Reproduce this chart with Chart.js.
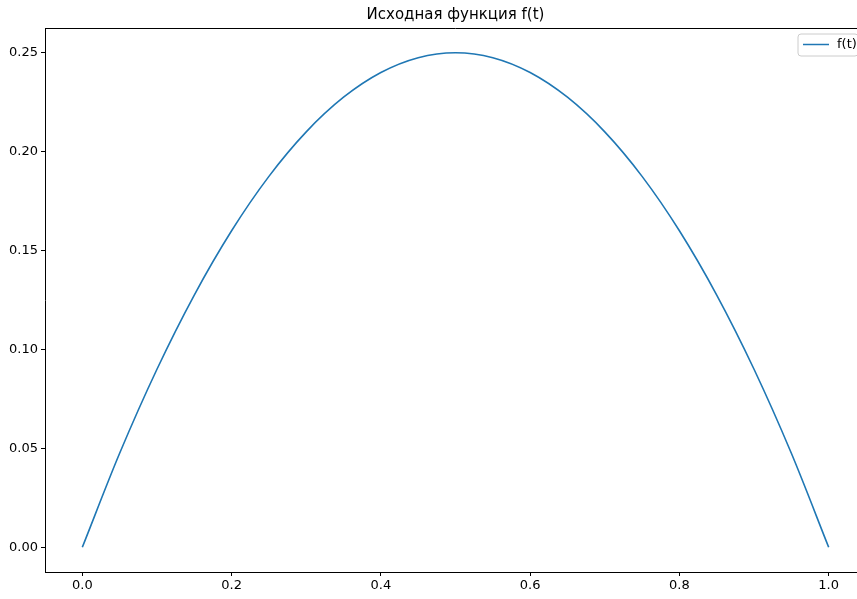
<!DOCTYPE html>
<html>
<head>
<meta charset="utf-8">
<script src="https://cdn.jsdelivr.net/npm/chart.js@4.4.0/dist/chart.umd.min.js"></script>
<style>
  html,body{margin:0;padding:0;background:#fff;overflow:hidden;}
  #wrap{width:880px;height:599px;}
</style>
</head>
<body>
<div id="wrap"><canvas id="fChart" width="880" height="599"></canvas></div>
<script>
// Data
const tValues = [0,0.05,0.1,0.15,0.2,0.25,0.3,0.35,0.4,0.45,0.5,0.55,0.6,0.65,0.7,0.75,0.8,0.85,0.9,0.95,1.0];
const fValues = [0,0.0475,0.09,0.1275,0.16,0.1875,0.21,0.2275,0.24,0.2475,0.25,0.2475,0.24,0.2275,0.21,0.1875,0.16,0.1275,0.09,0.0475,0];
const xTicks = [0,0.2,0.4,0.6,0.8,1.0];
const yTicks = [0,0.05,0.1,0.15,0.2,0.25];
const titleText = 'Исходная функция f(t)';
const seriesLabel = 'f(t)';

const FONT = '"DejaVu Sans", sans-serif';
const LINE = '#1f77b4';

// title, top spine and in-axes legend
const decor = {
  id:'decor',
  afterDraw(chart){
    const {ctx, chartArea:a} = chart;
    ctx.save();
    // top spine
    ctx.strokeStyle = '#000'; ctx.lineWidth = 1;
    ctx.beginPath(); ctx.moveTo(a.left, a.top+0.5); ctx.lineTo(a.right, a.top+0.5); ctx.stroke();
    // title
    ctx.fillStyle = '#000'; ctx.font = '15px '+FONT;
    ctx.textAlign = 'center'; ctx.textBaseline = 'middle';
    ctx.fillText(titleText, (a.left+a.right)/2, 15);
    // legend box
    const bx = 798, by = 34, bw = 60, bh = 22, r = 3;
    ctx.fillStyle = 'rgba(255,255,255,0.8)'; ctx.strokeStyle = '#cccccc';
    ctx.beginPath();
    ctx.moveTo(bx+r,by); ctx.lineTo(bx+bw-r,by); ctx.arcTo(bx+bw,by,bx+bw,by+r,r);
    ctx.lineTo(bx+bw,by+bh-r); ctx.arcTo(bx+bw,by+bh,bx+bw-r,by+bh,r);
    ctx.lineTo(bx+r,by+bh); ctx.arcTo(bx,by+bh,bx,by+bh-r,r);
    ctx.lineTo(bx,by+r); ctx.arcTo(bx,by,bx+r,by,r); ctx.closePath();
    ctx.fill(); ctx.stroke();
    ctx.strokeStyle = LINE; ctx.lineWidth = 1.5;
    ctx.beginPath(); ctx.moveTo(803, 44.5); ctx.lineTo(829, 44.5); ctx.stroke();
    ctx.fillStyle = '#000'; ctx.font = '13px '+FONT; ctx.textAlign = 'left';
    ctx.fillText(seriesLabel, 837, 45);
    ctx.restore();
  }
};

new Chart(document.getElementById('fChart'), {
  type:'line',
  data:{
    datasets:[{
      label: seriesLabel,
      data: tValues.map((t,i)=>({x:t, y:fValues[i]})),
      borderColor: LINE,
      borderWidth: 1.6,
      pointRadius: 0,
      fill: false,
      cubicInterpolationMode: 'monotone'
    }]
  },
  options:{
    responsive:false,
    animation:false,
    layout:{padding:{left:0, top:28, right:14, bottom:0}},
    plugins:{legend:{display:false}, title:{display:false}, tooltip:{enabled:false}},
    scales:{
      x:{
        type:'linear', min:-0.05, max:1.05,
        afterBuildTicks: s => { s.ticks = xTicks.map(v=>({value:v})); },
        afterFit: s => { s.height = 27; },
        grid:{drawOnChartArea:false, drawTicks:true, tickLength:4, tickColor:'#000'},
        border:{color:'#000', width:1},
        ticks:{color:'#000', font:{family:FONT, size:13}, padding:2, maxRotation:0,
          callback: v => Number(v).toFixed(1)}
      },
      y:{
        type:'linear', min:-0.0125, max:0.2625,
        afterBuildTicks: s => { s.ticks = yTicks.map(v=>({value:v})); },
        afterFit: s => { s.width = 45; },
        grid:{drawOnChartArea:false, drawTicks:true, tickLength:4, tickColor:'#000'},
        border:{color:'#000', width:1},
        ticks:{color:'#000', font:{family:FONT, size:13}, padding:3,
          callback: v => Number(v).toFixed(2)}
      }
    }
  },
  plugins:[decor]
});
</script>
</body>
</html>
